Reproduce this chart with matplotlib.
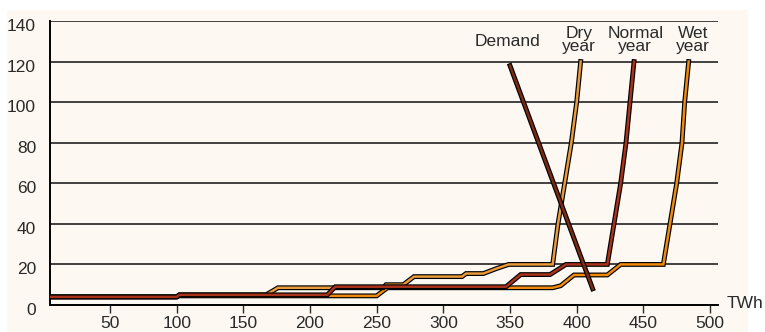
import matplotlib
matplotlib.use("Agg")
import matplotlib.pyplot as plt
import matplotlib.patheffects as pe
import matplotlib.transforms as mtransforms
from matplotlib.patches import Rectangle

plt.rcParams["font.family"] = ["Liberation Sans", "DejaVu Sans"]

# supply curves (TWh, price)
dry_twh = [0, 100, 102, 167, 176, 255, 257, 270, 278, 314, 317, 330, 340, 349, 382, 386, 391, 396, 400, 403]
dry_val = [4, 4, 5, 5, 8.5, 8.5, 10, 10, 14, 14, 15.5, 15.5, 18, 20, 20, 40, 60, 80, 100, 120]

normal_twh = [0, 100, 102, 213, 219, 347, 358, 380, 392, 423, 428, 433, 437, 440, 443]
normal_val = [4, 4, 5, 5, 9, 9, 15, 15, 20, 20, 40, 60, 80, 100, 120]

wet_twh = [0, 100, 102, 250, 258, 382, 388, 398, 423, 433, 465, 470, 475, 479, 481, 484]
wet_val = [4, 4, 4.5, 4.5, 8.5, 8.5, 9.5, 14.8, 14.8, 20, 20, 40, 60, 80, 100, 120]

demand_twh = [350, 412]
demand_val = [118, 8]

x_ticks = [50, 100, 150, 200, 250, 300, 350, 400, 450, 500]
y_ticks = [0, 20, 40, 60, 80, 100, 120, 140]

bg = "#fdf8f1"
fs = 12.5
fig = plt.figure(figsize=(7.65, 3.32), dpi=100)
fig.add_artist(Rectangle((7 / 765, 0), 741 / 765, 322 / 332,
                         transform=fig.transFigure, facecolor=bg,
                         edgecolor="none", zorder=-5))
ax = fig.add_axes([50 / 765, 1 - 305 / 332, 668 / 765, 284 / 332])
ax.set_facecolor(bg)

ax.set_xlim(5, 506)
ax.set_ylim(0, 140)
for v in y_ticks[1:]:
    ax.axhline(v, color="#111111", lw=1.1, zorder=1)

outline = [pe.Stroke(linewidth=3.5, foreground="black"), pe.Normal()]
ax.plot(wet_twh, wet_val, color="#f08a0c", lw=1.8, path_effects=outline, zorder=3,
        solid_joinstyle="miter")
ax.plot(dry_twh, dry_val, color="#e99a3a", lw=1.8, path_effects=outline, zorder=4,
        solid_joinstyle="miter")
ax.plot(normal_twh, normal_val, color="#a8321a", lw=1.8, path_effects=outline, zorder=5,
        solid_joinstyle="miter")
ax.plot(demand_twh, demand_val, color="#7e2a12", lw=1.8, path_effects=outline, zorder=6)

for s in ["top", "right"]:
    ax.spines[s].set_visible(False)
ax.spines["left"].set_linewidth(1.4)
ax.spines["bottom"].set_linewidth(1.4)

ax.set_xticks(x_ticks)
ax.set_yticks(y_ticks)
ax.tick_params(axis="x", direction="out", length=6, width=1.0, pad=2,
               labelsize=fs, colors="#2a2a2a")
ax.tick_params(axis="y", length=0, pad=10, labelsize=fs, colors="#2a2a2a")
off = mtransforms.ScaledTranslation(0, -4 / 100, fig.dpi_scale_trans)
for lab in ax.get_yticklabels():
    lab.set_transform(lab.get_transform() + off)

txt = dict(fontsize=fs, color="#2a2a2a", ha="center", va="center", linespacing=0.8)
ax.text(348, 130, "Demand", **txt)
ax.text(402, 130.5, "Dry\nyear", **txt)
ax.text(444, 130.5, "Normal\nyear", **txt)
ax.text(487, 130.5, "Wet\nyear", **txt)
fig.text(727 / 765, 1 - 304 / 332, "TWh", fontsize=fs, color="#2a2a2a",
         ha="left", va="center")

fig.savefig("out.png", dpi=100)
